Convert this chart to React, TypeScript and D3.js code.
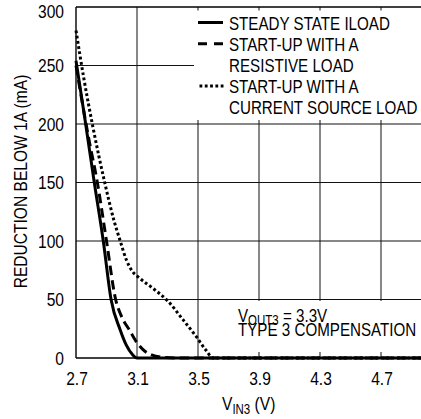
import React from "react";
import * as d3 from "d3";

const W = 421;
const H = 419;

const xTicks = [2.7, 3.1, 3.5, 3.9, 4.3, 4.7];
const yTicks = [0, 50, 100, 150, 200, 250, 300];

const steadyX = [2.7, 2.76, 2.82, 2.88, 2.93, 2.99, 3.03, 3.07, 3.1, 5.0];
const steadyY = [254, 203, 150, 99, 50, 24, 11, 3, 0, 0];

const resistiveX = [2.7, 2.78, 2.84, 2.9, 2.96, 3.0, 3.05, 3.1, 3.15, 3.2, 3.26, 3.35, 5.0];
const resistiveY = [250, 190, 150, 100, 50, 35, 24, 13, 6, 2.5, 0.8, 0, 0];

const currentX = [2.7, 2.75, 2.81, 2.89, 2.95, 2.99, 3.03, 3.07, 3.11, 3.2, 3.3, 3.4, 3.49, 3.55, 3.6, 5.0];
const currentY = [280, 240, 198, 149, 117, 100, 84, 74, 69, 60, 49, 33, 18, 7, 0, 0];

const legendLines = [
  "STEADY STATE ILOAD",
  "START-UP WITH A",
  "RESISTIVE LOAD",
  "START-UP WITH A",
  "CURRENT SOURCE LOAD",
];

const FONT = "'Liberation Sans', Arial, sans-serif";
const SX = 0.82;

type TProps = {
  x: number;
  y: number;
  size: number;
  anchor?: "start" | "middle" | "end";
  rotate?: number;
  dy?: string;
  children: React.ReactNode;
};

function T({ x, y, size, anchor = "start", rotate = 0, dy, children }: TProps) {
  return (
    <text
      transform={`translate(${x},${y}) rotate(${rotate}) scale(${SX},1)`}
      textAnchor={anchor}
      fontSize={size}
      dy={dy}
      fill="#000"
    >
      {children}
    </text>
  );
}

export default function App() {
  const x = d3.scaleLinear().domain([2.7, 5.0]).range([76, 76 + 2.3 * 152.5]);
  const y = d3.scaleLinear().domain([0, 300]).range([358, 7]);

  const line = d3
    .line<[number, number]>()
    .x((d) => x(d[0]))
    .y((d) => y(d[1]))
    .curve(d3.curveMonotoneX);

  const zip = (a: number[], b: number[]) => a.map((v, i) => [v, b[i]] as [number, number]);

  const plotRight = x(5.0);

  const legendBase = 29.5;
  const legendStep = 21.2;

  return (
    <svg
      width={W}
      height={H}
      style={{ position: "absolute", left: 0, top: 0, background: "#fff" }}
      fontFamily={FONT}
    >
      <rect x={0} y={0} width={W} height={H} fill="#fff" />
      {/* grid */}
      {xTicks.slice(1).map((t) => (
        <line key={"gx" + t} x1={x(t)} x2={x(t)} y1={y(300)} y2={y(0)} stroke="#111" strokeWidth={1} />
      ))}
      {yTicks.slice(1, -1).map((t) => (
        <line key={"gy" + t} x1={x(2.7)} x2={plotRight} y1={y(t)} y2={y(t)} stroke="#111" strokeWidth={1} />
      ))}
      {/* legend background */}
      <rect x={194} y={10.5} width={W - 194} height={109.5} fill="#fff" />
      {/* annotation background */}
      <rect x={230} y={301} width={W - 230} height={51} fill="#fff" />
      {/* frame */}
      <line x1={x(2.7)} x2={plotRight} y1={y(300)} y2={y(300)} stroke="#000" strokeWidth={1.3} />
      <line x1={x(2.7)} x2={x(2.7)} y1={y(300)} y2={y(0)} stroke="#000" strokeWidth={1.4} />
      <line x1={x(2.7)} x2={plotRight} y1={y(0)} y2={y(0)} stroke="#000" strokeWidth={1.4} />

      {/* curves */}
      <path d={line(zip(currentX, currentY)) || ""} fill="none" stroke="#000" strokeWidth={3} strokeDasharray="2.8 2.5" />
      <path d={line(zip(resistiveX, resistiveY)) || ""} fill="none" stroke="#000" strokeWidth={3} strokeDasharray="9.5 5" />
      <path d={line(zip(steadyX, steadyY)) || ""} fill="none" stroke="#000" strokeWidth={3} />

      {/* y tick labels */}
      {yTicks.map((t) => (
        <T key={"yl" + t} x={64} y={Math.max(y(t), 11)} dy="0.36em" anchor="end" size={19}>
          {t}
        </T>
      ))}
      {/* x tick labels */}
      {xTicks.map((t) => (
        <T key={"xl" + t} x={x(t) + 1} y={384.5} anchor="middle" size={19}>
          {t.toFixed(1)}
        </T>
      ))}

      {/* axis titles */}
      <T x={26.5} y={181.5} rotate={-90} anchor="middle" size={19}>
        REDUCTION BELOW 1A (mA)
      </T>
      <T x={222} y={410} size={19}>
        V
        <tspan fontSize={14} dy={4}>IN3</tspan>
        <tspan dy={-4}> (V)</tspan>
      </T>

      {/* legend */}
      <line x1={198} x2={223} y1={legendBase - 7} y2={legendBase - 7} stroke="#000" strokeWidth={3} />
      <line x1={198} x2={223} y1={legendBase + legendStep - 7} y2={legendBase + legendStep - 7} stroke="#000" strokeWidth={3} strokeDasharray="9 7" />
      <line x1={199.5} x2={226} y1={legendBase + 3 * legendStep - 7} y2={legendBase + 3 * legendStep - 7} stroke="#000" strokeWidth={3} strokeDasharray="2.8 2.5" />
      {legendLines.map((s, i) => (
        <T key={"lg" + i} x={229} y={legendBase + i * legendStep} size={18.5}>
          {s}
        </T>
      ))}

      {/* annotation */}
      <T x={238} y={322} size={18.5}>
        V
        <tspan fontSize={14} dy={3}>OUT3</tspan>
        <tspan dy={-3}> = 3.3V</tspan>
      </T>
      <T x={238} y={335.5} size={18.5}>
        TYPE 3 COMPENSATION
      </T>
    </svg>
  );
}
